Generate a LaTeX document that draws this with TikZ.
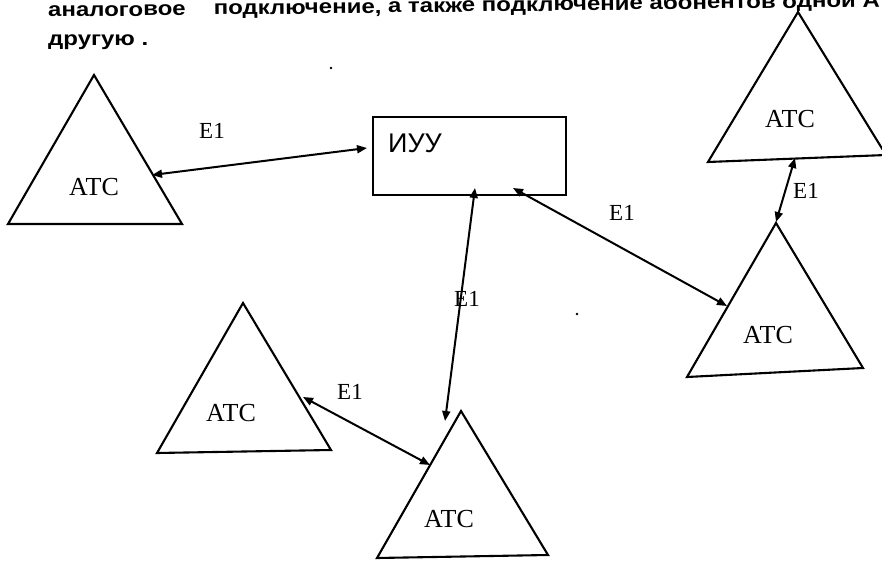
\documentclass[tikz,border=0pt]{standalone}
\usepackage{fontspec}
\setmainfont{Liberation Serif}
\newfontfamily\sansfont{Liberation Sans}
\newfontfamily\headfont[FakeStretch=1.2]{Liberation Sans}
\usetikzlibrary{arrows.meta,calc}
\tikzset{
  station/.style={draw, line width=2.1pt, line join=miter},
  stlabel/.style={font=\fontsize{26}{26}\selectfont, inner sep=0pt},
  elabel/.style={font=\fontsize{23}{23}\selectfont, inner sep=0pt},
  link/.style={line width=2pt,
    {Triangle[length=10pt,width=8pt]}-{Triangle[length=10pt,width=8pt]}},
  headline/.style={font=\headfont\bfseries\fontsize{20}{20}\selectfont,
    inner sep=0pt, anchor=base west},
  unitbox/.style={draw, line width=2.1pt, inner sep=0pt,
    minimum width=193pt, minimum height=78pt},
  speck/.style={fill=black}
}
\begin{document}
\begin{tikzpicture}[x=1pt,y=-1pt]
\useasboundingbox (0,0) rectangle (882,561);
\clip (0,0) rectangle (882,561);
\fill[white] (0,0) rectangle (882,561);

% running text above the scheme
\node[headline, rotate=0.7] (line1) at (48,17)
  {аналоговое\hspace*{28pt}подключение, а также подключение абонентов одной АТС на};
\node[headline] (line2) at (48,46) {другую .};

% exchanges (АТС)
\coordinate (a1) at (94,75);  \coordinate (l1) at (8,224);   \coordinate (r1) at (182,224);
\coordinate (a2) at (798,12); \coordinate (l2) at (708,162); \coordinate (r2) at (886,155);
\coordinate (a3) at (776,223);\coordinate (l3) at (687,377); \coordinate (r3) at (863,368);
\coordinate (a4) at (243,303);\coordinate (l4) at (157,453); \coordinate (r4) at (331,450);
\coordinate (a5) at (461,411);\coordinate (l5) at (377,558); \coordinate (r5) at (548,555);
\foreach \i in {1,...,5} {
  \draw[station] (a\i) -- (l\i) -- (r\i) -- cycle;
}
\node[stlabel] (atc1) at (94,187)  {АТС};
\node[stlabel] (atc2) at (790,119) {АТС};
\node[stlabel] (atc3) at (768,335) {АТС};
\node[stlabel] (atc4) at (231,413) {АТС};
\node[stlabel] (atc5) at (449,519) {АТС};

% control unit
\node[unitbox] (iuu) at (469.5,156) {};
\node[font=\sansfont\fontsize{27}{27}\selectfont, inner sep=0pt] (iuutext) at (415,143) {ИУУ};

% E1 link end points
\coordinate (p1) at (152,175);  \coordinate (q1) at (367,148);
\coordinate (p2) at (475,188);  \coordinate (q2) at (445,421);
\coordinate (p3) at (513,188);  \coordinate (q3) at (727,306);
\coordinate (p4) at (795,158);  \coordinate (q4) at (776,222);
\coordinate (p5) at (303,397);  \coordinate (q5) at (430,465);
\foreach \i in {1,...,5} {
  \draw[link] (p\i) -- (q\i);
}
\node[elabel] (e1) at (212,131) {E1};
\node[elabel] (e2) at (467,299) {E1};
\node[elabel] (e3) at (622,213) {E1};
\node[elabel] (e4) at (806,191) {E1};
\node[elabel] (e5) at (350,392) {E1};

% specks
\fill[speck] (331,68) circle (1.3);
\fill[speck] (577,314) circle (1.3);
\end{tikzpicture}
\end{document}
